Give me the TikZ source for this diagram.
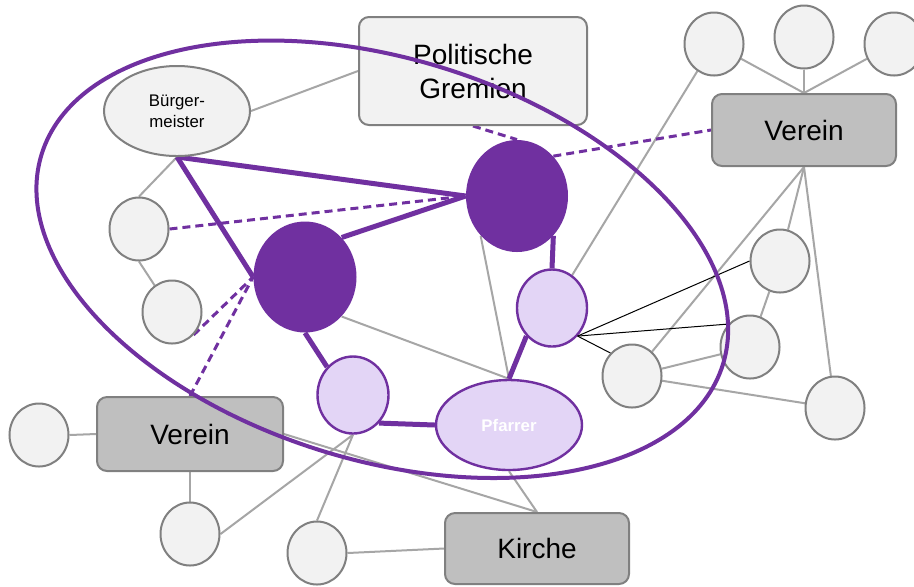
\documentclass[tikz,border=0pt]{standalone}
\usepackage{fontspec}
\setmainfont{Liberation Sans}
\usetikzlibrary{shapes.geometric}
\definecolor{plum}{HTML}{7030A0}
\definecolor{lilac}{HTML}{E3D5F6}
\definecolor{pale}{HTML}{F2F2F2}
\definecolor{boxgray}{HTML}{BFBFBF}
\definecolor{rim}{HTML}{808080}
\definecolor{wire}{HTML}{A6A6A6}
\pgfdeclarelayer{background}
\pgfsetlayers{background,main}
\begin{document}
\begin{tikzpicture}[x=0.5pt,y=-0.5pt,
  member/.style={ellipse, draw=rim, fill=pale, line width=1pt, minimum width=29.5pt, minimum height=31.5pt, inner sep=0pt},
  person/.style={ellipse, draw=rim, fill=pale, line width=1pt, minimum width=73pt, minimum height=45pt, inner sep=0pt, align=center, font=\fontsize{8.4}{10.5}\selectfont},
  org/.style={rectangle, rounded corners=5pt, draw=rim, fill=boxgray, line width=1pt, inner sep=0pt, font=\fontsize{14}{17}\selectfont},
  core/.style={ellipse, fill=plum, minimum width=51pt, minimum height=56pt, inner sep=0pt},
  link/.style={ellipse, draw=plum, fill=lilac, line width=1.2pt, minimum width=35pt, minimum height=38.5pt, inner sep=0pt},
  tie/.style={draw=wire, line width=1pt},
  bond/.style={draw=plum, line width=2.5pt},
  loose/.style={draw=plum, line width=1.5pt, dash pattern=on 4pt off 2.5pt},
  hairline/.style={draw=black, line width=0.5pt}
]
\useasboundingbox (0,0) rectangle (914,586);

% organisations
\node[org, fill=pale, minimum width=114pt, minimum height=54pt, align=center] (pg) at (473,71) {Politische\\Gremien};
\node[org, minimum width=92pt, minimum height=36pt] (vtr) at (804,130) {Verein};
\node[org, minimum width=93pt, minimum height=37pt] (vl) at (190,434) {Verein};
\node[org, minimum width=92pt, minimum height=35.5pt] (ki) at (537,548.5) {Kirche};

% people
\node[person] (bm) at (177,111) {Bürger-\\meister};
\node[core] (d1) at (517,196) {};
\node[core, minimum width=51.5pt, minimum height=55.5pt] (d2) at (305,277) {};
\node[link] (lp1) at (552,308) {};
\node[link, minimum width=35.5pt] (lp2) at (353,395) {};
\node[link, minimum width=73pt, minimum height=45pt, text=white, font=\bfseries\fontsize{8.4}{10}\selectfont] (pf) at (509,425) {Pfarrer};

\node[member] (c1) at (714,44) {};
\node[member] (c2) at (804,37) {};
\node[member] (c3) at (894,44) {};
\node[member] (cl1) at (139,229) {};
\node[member] (cl2) at (172,312) {};
\node[member] (cfl) at (39,435) {};
\node[member] (cvb) at (190,534) {};
\node[member] (ck) at (317,553) {};
\node[member] (r1) at (780,261) {};
\node[member] (r2) at (750,347) {};
\node[member] (r3) at (835,408) {};
\node[member] (r4) at (632,376) {};

\begin{pgfonlayer}{background}
\fill[white] (0,0) rectangle (914,586);
% plain ties
\draw[tie] (bm.east) -- (pg.west);
\draw[tie] (bm.south) -- (cl1.north);
\draw[tie] (cl1.south) -- (cl2);
\draw[tie] (c1) -- (vtr.north);
\draw[tie] (c2) -- (vtr.north);
\draw[tie] (c3) -- (vtr.north);
\draw[tie] (c1) -- (lp1);
\draw[tie] (vtr.south) -- (r1);
\draw[tie] (vtr.south) -- (r3);
\draw[tie] (vtr.south) -- (r4);
\draw[tie] (r1) -- (r2);
\draw[tie] (r4) -- (r2);
\draw[tie] (r4) -- (r3);
\draw[tie] (d1.south west) -- (pf.north);
\draw[tie] (d2.south east) -- (pf.north);
\draw[tie] (pf.south) -- (ki.north);
\draw[tie] (lp2.south) -- (cvb.east);
\draw[tie] (lp2.south) -- (ck.north);
\draw[tie] (ck.east) -- (ki.west);
\draw[tie] (cfl.east) -- (vl.west);
\draw[tie] (vl.south) -- (cvb.north);
\draw[tie] (vl.east) -- (ki.north);
% strong bonds
\draw[bond] (bm.south) -- (d1.west);
\draw[bond] (bm.south) -- (d2.west);
\draw[bond] (d2.north east) -- (d1.west);
\draw[bond] (d1.south east) -- (lp1.north);
\draw[bond] (lp1.south west) -- (pf.north);
\draw[bond] (d2.south) -- (lp2.north west);
\draw[bond] (lp2.south east) -- (pf.west);
% weak bonds
\draw[loose] (cl1.east) -- (d1.west);
\draw[loose] (cl2.south east) -- (d2.west);
\draw[loose] (vl.north) -- (d2.west);
\draw[loose] (pg.south) -- (d1.north);
\draw[loose] (d1.north east) -- (vtr.west);
\end{pgfonlayer}

% direct contacts
\draw[hairline] (lp1.south east) -- (r1.west);
\draw[hairline] (lp1.south east) -- (r2.north west);
\draw[hairline] (lp1.south east) -- (r4.north west);

% network boundary
\coordinate (hub) at (382.3,259.3);
\draw[plum, line width=2pt, rotate around={-17.1:(hub)}] (hub) ellipse (356.5 and 200.8);
\end{tikzpicture}
\end{document}
